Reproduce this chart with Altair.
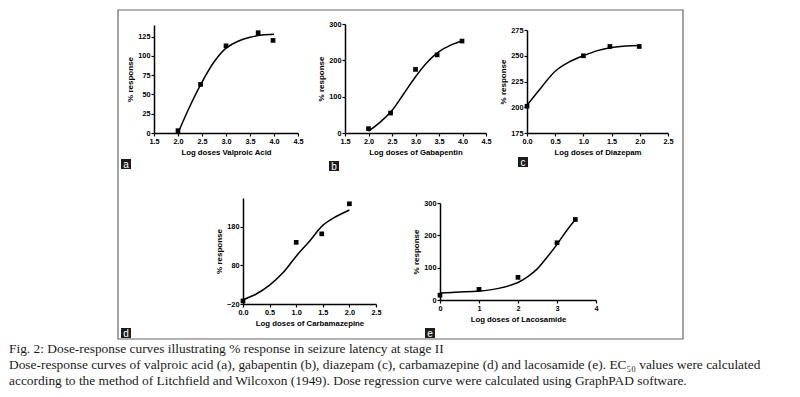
import altair as alt
import pandas as pd

# ---------------- data ----------------
# (a) valproic acid
a_dose = [2.0, 2.47, 3.0, 3.67, 3.98]
a_resp = [3, 63, 113, 130, 120]
a_fit_x = [2.0, 2.25, 2.5, 2.75, 3.0, 3.25, 3.5, 3.75, 4.0]
a_fit_y = [0, 35, 66, 92, 110, 119, 124, 127, 128]
a_xticks = [1.5, 2.0, 2.5, 3.0, 3.5, 4.0, 4.5]
a_yticks = [0, 25, 50, 75, 100, 125]

# (b) gabapentin
b_dose = [2.0, 2.47, 3.0, 3.46, 3.99]
b_resp = [12, 55, 175, 215, 253]
b_fit_x = [2.0, 2.25, 2.5, 2.75, 3.0, 3.25, 3.5, 3.75, 4.0]
b_fit_y = [5, 30, 62, 108, 155, 195, 224, 242, 253]
b_xticks = [1.5, 2.0, 2.5, 3.0, 3.5, 4.0, 4.5]
b_yticks = [0, 100, 200, 300]

# (c) diazepam
c_dose = [0.0, 1.0, 1.47, 1.99]
c_resp = [201, 250, 259, 259]
c_fit_x = [0.0, 0.25, 0.5, 0.75, 1.0, 1.25, 1.5, 1.75, 2.0]
c_fit_y = [202, 219, 235, 244, 250, 255, 258, 259.5, 260]
c_xticks = [0.0, 0.5, 1.0, 1.5, 2.0, 2.5]
c_yticks = [175, 200, 225, 250, 275]

# (d) carbamazepine
d_dose = [0.0, 1.0, 1.48, 2.0]
d_resp = [-12, 140, 162, 240]
d_fit_x = [0.0, 0.25, 0.5, 0.75, 1.0, 1.25, 1.5, 1.75, 2.0]
d_fit_y = [-9, 6, 29, 61, 104, 143, 184, 207, 224]
d_xticks = [0.0, 0.5, 1.0, 1.5, 2.0, 2.5]
d_yticks = [-20, 80, 180]

# (e) lacosamide
e_dose = [0.0, 1.0, 2.0, 3.0, 3.47]
e_resp = [15, 33, 70, 177, 249]
e_fit_x = [0.0, 0.5, 1.0, 1.5, 2.0, 2.25, 2.5, 2.75, 3.0, 3.25, 3.47]
e_fit_y = [22, 24.5, 27.5, 36, 54, 72, 97, 133, 172, 215, 249]
e_xticks = [0, 1, 2, 3, 4]
e_yticks = [0, 100, 200, 300]

x_titles = ["Log doses Valproic Acid", "Log doses of Gabapentin",
            "Log doses of Diazepam", "Log doses of Carbamazepine",
            "Log doses of Lacosamide"]
y_title = "% response"
tags = ["a", "b", "c", "d", "e"]

caption_lines = [
    "Fig. 2: Dose-response curves illustrating % response in seizure latency at stage II",
    "Dose-response curves of valproic acid (a), gabapentin (b), diazepam (c), carbamazepine (d) and lacosamide (e). EC\u2085\u2080 values were calculated",
    "according to the method of Litchfield and Wilcoxon (1949). Dose regression curve were calculated using GraphPAD software.",
]

SANS = "Liberation Sans"
SERIF = "Liberation Serif"


def tag_layers(letter, box):
    x0, x1, y0, y1 = box
    one = pd.DataFrame({"t": [letter]})
    rect = alt.Chart(one).mark_rect(color="#1c1c1c").encode(
        x=alt.value(x0), x2=alt.value(x1), y=alt.value(y0), y2=alt.value(y1))
    txt = alt.Chart(one).mark_text(color="white", font=SANS, fontSize=10,
                                    baseline="middle", align="center").encode(
        x=alt.value((x0 + x1) / 2), y=alt.value((y0 + y1) / 2 + 0.5), text="t:N")
    return [rect, txt]


def panel(dose, resp, fit_x, fit_y, xdom, xrng, xticks, xfmt, xtitle,
          ydom, yrng, yticks, width, height, letter, box, yoffset=0, extra=None):
    pts = pd.DataFrame({"x": dose, "y": resp})
    fit = pd.DataFrame({"x": fit_x, "y": fit_y})
    xs = alt.Scale(domain=xdom, range=xrng, nice=False, zero=False)
    ys = alt.Scale(domain=ydom, range=yrng, nice=False, zero=False)
    xa = alt.Axis(values=xticks, format=xfmt, title=xtitle, labelFlush=False,
                  labelOverlap=False, grid=False, tickSize=3, labelPadding=1,
                  titlePadding=4, labelFontSize=7.3, titleFontSize=7.8)
    ya = alt.Axis(values=yticks, title=y_title, labelFlush=False,
                  labelOverlap=False, grid=False, tickSize=3, labelPadding=1,
                  titlePadding=3, labelFontSize=7.3, titleFontSize=8,
                  offset=yoffset)
    line = alt.Chart(fit).mark_line(color="black", strokeWidth=1.5,
                                    interpolate="catmull-rom").encode(
        x=alt.X("x:Q", scale=xs, axis=xa), y=alt.Y("y:Q", scale=ys, axis=ya))
    dots = alt.Chart(pts).mark_square(size=22, color="black", opacity=1).encode(
        x=alt.X("x:Q", scale=xs, axis=xa), y=alt.Y("y:Q", scale=ys, axis=ya))
    layers = [line, dots] + tag_layers(letter, box)
    if extra:
        layers += extra
    return alt.layer(*layers).properties(width=width, height=height)


# frame and caption drawn relative to panel (a)
one = pd.DataFrame({"k": [0]})
frame = alt.Chart(one).mark_rect(fillOpacity=0, stroke="#666666", strokeWidth=1.2).encode(
    x=alt.value(-36), x2=alt.value(529), y=alt.value(-14), y2=alt.value(315))
cap = []
for i, line_text in enumerate(caption_lines):
    cap.append(alt.Chart(pd.DataFrame({"t": [line_text]})).mark_text(
        font=SERIF, fontSize=13.4, color="#1a1a1a", align="left",
        baseline="alphabetic").encode(
        x=alt.value(-145), y=alt.value(329 + 16 * i), text="t:N"))

pa = panel(a_dose, a_resp, a_fit_x, a_fit_y, [1.5, 4.5], [0, 144], a_xticks, ".1f",
           x_titles[0], [0, 140], [109, 1], a_yticks, 191, 109, tags[0],
           (-33, -23, 135, 145), extra=[frame] + cap)
pb = panel(b_dose, b_resp, b_fit_x, b_fit_y, [1.5, 4.5], [0, 141], b_xticks, ".1f",
           x_titles[1], [0, 300], [109, 0], b_yticks, 182, 109, tags[1],
           (-16, -6, 137, 147))
pc = panel(c_dose, c_resp, c_fit_x, c_fit_y, [0, 2.5], [0, 141], c_xticks, ".1f",
           x_titles[2], [175, 275], [109, 6], c_yticks, 141, 109, tags[2],
           (-9, 1, 133, 143))
pd_ = panel(d_dose, d_resp, d_fit_x, d_fit_y, [0, 2.5], [89, 222], d_xticks, ".1f",
            x_titles[3], [-20, 255], [106, 0], d_yticks, 191, 106, tags[3],
            (-33, -23, 130, 140), yoffset=-89)
pe = panel(e_dose, e_resp, e_fit_x, e_fit_y, [0, 4], [95, 251], e_xticks, "d",
           x_titles[4], [0, 300], [102, 5], e_yticks, 182, 102, tags[4],
           (80, 90, 130, 140), yoffset=-95)

chart = alt.concat(pa, pb, pc, pd_, pe, columns=3,
                   bounds="flush", spacing={"row": 65, "column": 0}).properties(
    padding=0, background="white"
).configure_view(stroke="transparent").configure_axis(
    domainColor="black", domainWidth=1.5, tickColor="black", tickWidth=1.2,
    labelColor="black", titleColor="black", labelFont=SANS, titleFont=SANS,
    labelFontWeight="bold", titleFontWeight="bold")

chart.save("out.html", embed_options={"renderer": "svg", "actions": False})
